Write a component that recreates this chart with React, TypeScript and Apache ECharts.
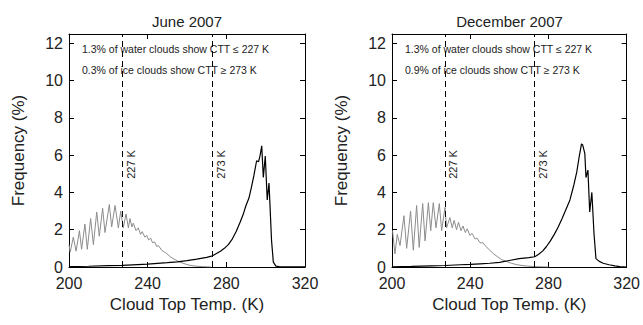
import React, { useEffect, useRef } from "react";
import * as echarts from "echarts";

// ---- Data ----
const xTicks = [200, 240, 280, 320];
const yTicks = [0, 2, 4, 6, 8, 10, 12];
const thresholds = [227, 273];
const panelTitles = ["June 2007", "December 2007"];
const noteWater = ["1.3% of water clouds show CTT \u2264 227 K", "1.3% of water clouds show CTT \u2264 227 K"];
const noteIce = ["0.3% of ice clouds show CTT \u2265 273 K", "0.9% of ice clouds show CTT \u2265 273 K"];

// June 2007 – ice (cold, grey) clouds
const juneIce: [number, number][] = [
  [200, 1.2], [200.6, 0.8], [202.2, 1.6], [203.6, 0.85], [205.3, 1.95], [206.4, 0.95],
  [208.1, 2.3], [209.3, 0.95], [211.0, 2.6], [212.4, 1.2], [214.1, 2.95], [215.4, 1.65],
  [217.1, 3.15], [218.3, 1.85], [220.5, 3.35], [221.7, 2.15], [223.4, 3.3], [225.1, 2.1],
  [226.3, 3.0], [227.6, 2.1], [229.0, 2.85], [230.2, 2.1], [231.0, 2.6], [232.0, 2.15],
  [232.7, 2.35], [234.1, 1.95], [235.2, 2.1], [236.4, 1.75], [237.2, 1.9], [238.6, 1.6],
  [239.5, 1.7], [240.5, 1.45], [241.5, 1.55], [242.5, 1.3], [243.5, 1.35], [244.6, 1.1],
  [245.5, 1.15], [247.1, 0.9], [248.5, 0.8], [249.7, 0.72], [251.5, 0.55], [253.0, 0.45],
  [255.6, 0.3], [258, 0.2], [261, 0.1], [264, 0.05], [268, 0.02], [272, 0.0],
];
// June 2007 – water (warm, black) clouds
const juneWater: [number, number][] = [
  [200, 0.02], [210, 0.04], [220, 0.07], [227, 0.09], [235, 0.13], [240, 0.15], [245, 0.19],
  [250, 0.23], [255, 0.28], [260, 0.34], [265, 0.42], [270, 0.52], [273, 0.6], [275, 0.72],
  [277, 0.85], [279, 1.0], [281, 1.2], [283, 1.5], [285, 1.9], [287, 2.4], [288.5, 2.8],
  [290, 3.3], [291.5, 3.7], [292.8, 4.3], [294, 4.9], [295.4, 5.7], [296.4, 5.65], [297.2, 6.0],
  [298, 6.5], [298.8, 4.8], [299.8, 5.95], [300.8, 3.6], [301.7, 4.5], [303, 1.4], [303.9, 0.26],
  [305.2, 0.05], [307, 0.02], [320, 0.01],
];
// December 2007 – ice (cold, grey) clouds
const decIce: [number, number][] = [
  [200.3, 1.95], [201.5, 0.7], [202.7, 1.75], [204.1, 1.15], [206.1, 2.75], [207.5, 1.0],
  [209.5, 3.0], [210.9, 0.9], [212.6, 3.3], [213.9, 1.05], [215.7, 3.4], [216.9, 1.4],
  [218.6, 3.45], [219.8, 1.95], [221.1, 3.45], [222.5, 2.1], [224.2, 3.4], [225.4, 1.95],
  [227.1, 3.2], [227.9, 2.1], [229.6, 2.65], [230.8, 2.1], [231.8, 2.5], [233.0, 2.0],
  [234.0, 2.4], [235.3, 1.95], [236.3, 2.2], [237.5, 1.85], [238.5, 2.05], [239.8, 1.7],
  [241.0, 1.8], [242.5, 1.5], [243.5, 1.55], [245.0, 1.3], [246.5, 1.3], [248.0, 1.1],
  [250.0, 0.9], [252.0, 0.7], [254.0, 0.55], [256.0, 0.4], [258.0, 0.32], [261, 0.2],
  [264, 0.12], [268, 0.06], [273, 0.02], [280, 0.0],
];
// December 2007 – water (warm, black) clouds
const decWater: [number, number][] = [
  [200, 0.01], [210, 0.03], [220, 0.06], [227, 0.08], [235, 0.12], [240, 0.14], [245, 0.17],
  [250, 0.2], [255, 0.25], [260, 0.35], [265, 0.45], [270, 0.5], [273, 0.55], [275, 0.68],
  [277, 0.85], [279, 1.1], [281, 1.4], [283, 1.75], [285, 2.15], [287, 2.6], [289, 3.1],
  [291, 3.6], [293, 4.4], [294.5, 5.1], [295.7, 5.9], [296.9, 6.6], [297.5, 6.55], [298.6, 6.1],
  [299.2, 4.8], [300.2, 5.2], [301.1, 2.95], [302.2, 4.0], [303.3, 1.8], [304.3, 0.45],
  [306, 0.3], [308, 0.2], [311, 0.12], [314, 0.06], [316.5, 0.02], [320, 0.0],
];

const FONT = "'Liberation Sans', Arial, Helvetica, sans-serif";
const Y_MAX = 12.5;
const LABEL_SPAN = 11;

export default function App() {
  const ref = useRef<HTMLDivElement>(null);

  useEffect(() => {
    if (!ref.current) return;
    const chart = echarts.init(ref.current, undefined, { renderer: "svg" });

    const grids = [
      { left: 69, top: 34, width: 236, height: 233 },
      { left: 392, top: 34, width: 235, height: 233 },
    ];

    const xAxes: any[] = [];
    const yAxes: any[] = [];
    grids.forEach((_, gi) => {
      const base = {
        type: "value",
        gridIndex: gi,
        min: xTicks[0],
        max: xTicks[xTicks.length - 1],
        interval: xTicks[1] - xTicks[0],
        axisLine: { show: true, onZero: false, lineStyle: { color: "#000", width: 1 } },
        axisTick: { show: true, inside: true, length: 5, lineStyle: { color: "#000" } },
        splitLine: { show: false },
      };
      xAxes.push({
        ...base,
        position: "bottom",
        axisLabel: { color: "#222", fontSize: 16, fontFamily: FONT, margin: 8 },
        name: "Cloud Top Temp. (K)",
        nameLocation: "middle",
        nameGap: 29,
        nameTextStyle: { color: "#222", fontSize: 17, fontFamily: FONT },
      });
      xAxes.push({ ...base, position: "top", axisLabel: { show: false } });

      const ybase = {
        type: "value",
        gridIndex: gi,
        min: yTicks[0],
        max: Y_MAX,
        interval: yTicks[1] - yTicks[0],
        axisLine: { show: true, onZero: false, lineStyle: { color: "#000", width: 1 } },
        axisTick: { show: true, inside: true, length: 5, lineStyle: { color: "#000" } },
        splitLine: { show: false },
      };
      yAxes.push({
        ...ybase,
        position: "left",
        axisLabel: {
          color: "#222",
          fontSize: 16,
          fontFamily: FONT,
          margin: 6,
          formatter: (v: number) => (yTicks.includes(v) ? String(v) : ""),
        },
        name: "Frequency (%)",
        nameLocation: "middle",
        nameGap: 42,
        nameTextStyle: { color: "#222", fontSize: 17, fontFamily: FONT },
      });
      yAxes.push({ ...ybase, position: "right", axisLabel: { show: false } });
    });

    const markLine = {
      silent: true,
      symbol: ["none", "none"],
      lineStyle: { type: [6, 4], color: "#000", width: 1 },
      label: { show: false },
      data: [
        ...thresholds.map((t) => [{ coord: [t, 0] }, { coord: [t, Y_MAX] }]),
        ...thresholds.map((t) => [
          {
            coord: [t, 0],
            lineStyle: { color: "rgba(0,0,0,0)", width: 1, type: "solid" },
            label: {
              show: true,
              position: "insideMiddleBottom",
              formatter: `${t} K`,
              fontSize: 11,
              fontFamily: FONT,
              color: "#222",
              distance: 3,
            },
          },
          { coord: [t, LABEL_SPAN] },
        ]),
      ],
    };

    const mk = (data: [number, number][], color: string, gi: number, width: number, withMark: boolean) => ({
      type: "line",
      xAxisIndex: gi * 2,
      yAxisIndex: gi * 2,
      data,
      symbol: "none",
      lineStyle: { color, width },
      z: color === "#000" ? 3 : 2,
      ...(withMark ? { markLine } : {}),
    });

    const graphic: any[] = [];
    grids.forEach((g, gi) => {
      graphic.push({
        type: "text",
        x: g.left + g.width / 2,
        y: 21,
        style: { text: panelTitles[gi], fontSize: 15, fontFamily: FONT, fill: "#222", align: "center", verticalAlign: "middle" },
      });
      graphic.push({
        type: "text",
        x: g.left + 13,
        y: 49,
        style: { text: noteWater[gi], fontSize: 10.5, fontFamily: FONT, fill: "#222", align: "left", verticalAlign: "middle" },
      });
      graphic.push({
        type: "text",
        x: g.left + 13,
        y: 70,
        style: { text: noteIce[gi], fontSize: 10.5, fontFamily: FONT, fill: "#222", align: "left", verticalAlign: "middle" },
      });
    });

    chart.setOption({
      animation: false,
      backgroundColor: "#fff",
      grid: grids.map((g) => ({ ...g, containLabel: false })),
      xAxis: xAxes,
      yAxis: yAxes,
      graphic,
      series: [
        mk(juneIce, "#8c8c8c", 0, 1, false),
        mk(juneWater, "#000", 0, 1.2, true),
        mk(decIce, "#8c8c8c", 1, 1, false),
        mk(decWater, "#000", 1, 1.2, true),
      ],
    });

    return () => chart.dispose();
  }, []);

  return (
    <div
      ref={ref}
      style={{ position: "fixed", left: 0, top: 0, width: 643, height: 325, background: "#fff" }}
    />
  );
}
